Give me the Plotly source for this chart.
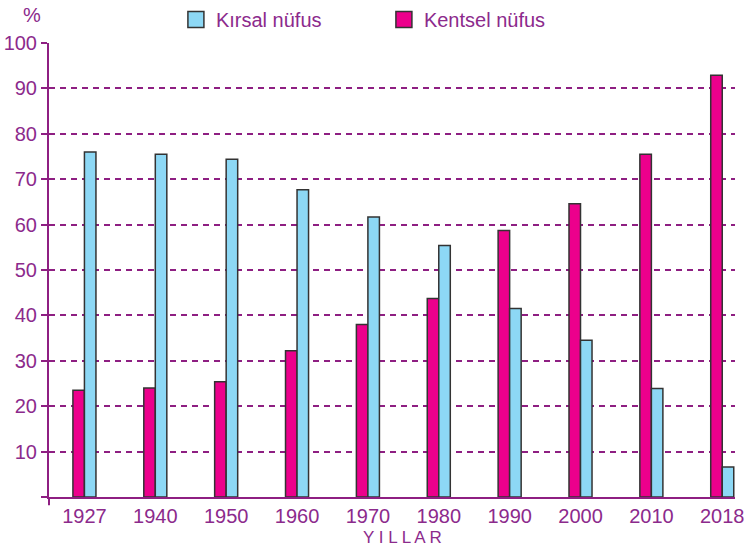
import plotly.graph_objects as go

years = ["1927", "1940", "1950", "1960", "1970", "1980", "1990", "2000", "2010", "2018"]
kentsel = [23.5, 24.0, 25.4, 32.2, 38.0, 43.7, 58.7, 64.6, 75.5, 92.9]
kirsal = [76.0, 75.5, 74.4, 67.7, 61.7, 55.4, 41.5, 34.5, 23.9, 6.6]
y_ticks = [10, 20, 30, 40, 50, 60, 70, 80, 90, 100]

PINK = "#EC008C"
BLUE = "#8DD8F5"
PURPLE = "#8C2A8C"
GRID = "#8E1F82"
EDGE = "#333333"
FONT = "Liberation Sans"

fig = go.Figure()
fig.add_trace(go.Bar(x=years, y=kentsel, name="Kentsel nüfus", marker=dict(color=PINK, line=dict(color=EDGE, width=1.5)), showlegend=False))
fig.add_trace(go.Bar(x=years, y=kirsal, name="Kırsal nüfus", marker=dict(color=BLUE, line=dict(color=EDGE, width=1.5)), showlegend=False))

# legend proxies
fig.add_trace(go.Scatter(x=[None], y=[None], mode="markers", name="Kırsal nüfus",
                         marker=dict(symbol="square", size=18, color=BLUE, line=dict(color=EDGE, width=1.5))))
fig.add_trace(go.Scatter(x=[None], y=[None], mode="markers", name="Kentsel nüfus",
                         marker=dict(symbol="square", size=18, color=PINK, line=dict(color=EDGE, width=1.5))))

fig.update_layout(
    width=745, height=551,
    margin=dict(l=49, r=10, t=43, b=54, autoexpand=False),
    paper_bgcolor="white", plot_bgcolor="white",
    barmode="group", bargap=0.675, bargroupgap=0,
    font=dict(family=FONT, size=20, color=PURPLE),
    legend=dict(orientation="h", x=0.185, y=1.0, xanchor="left", yanchor="top",
                yref="container", xref="paper",
                entrywidth=163, entrywidthmode="pixels", itemsizing="trace",
                font=dict(family=FONT, size=20, color=PURPLE), bgcolor="rgba(0,0,0,0)"),
    xaxis=dict(type="category", range=[-0.5, 9.18], showgrid=False, showline=True,
               linecolor=GRID, linewidth=2, ticks="", tickfont=dict(size=20, color=PURPLE),
               fixedrange=True, automargin=False),
    yaxis=dict(range=[0, 100], tickvals=[0] + y_ticks, ticktext=[""] + [str(v) for v in y_ticks],
               showgrid=True, gridcolor=GRID, griddash="6px,5px", gridwidth=1.6,
               showline=True, linecolor=GRID, linewidth=2, ticks="outside", ticklen=6,
               tickcolor=GRID, tickwidth=1.5, tickfont=dict(size=20, color=PURPLE),
               zeroline=False, fixedrange=True, automargin=False),
    annotations=[
        dict(text="%", xref="paper", yref="paper", x=-0.025, y=1.0, yshift=28, showarrow=False,
             xanchor="center", yanchor="middle", font=dict(size=20, color=PURPLE)),
        dict(text="Y I L L A R", xref="paper", yref="paper", x=0.515, y=0, yshift=-40, showarrow=False,
             xanchor="center", yanchor="middle", font=dict(size=17, color=PURPLE)),
    ],
    shapes=[dict(type="line", xref="paper", yref="paper", x0=0, x1=0, y0=0, y1=-0.018,
                 line=dict(color=GRID, width=2))],
)

fig.write_html("out.html", config={"displayModeBar": False},
               post_script="document.body.style.margin='0px';document.body.style.padding='0px';")
